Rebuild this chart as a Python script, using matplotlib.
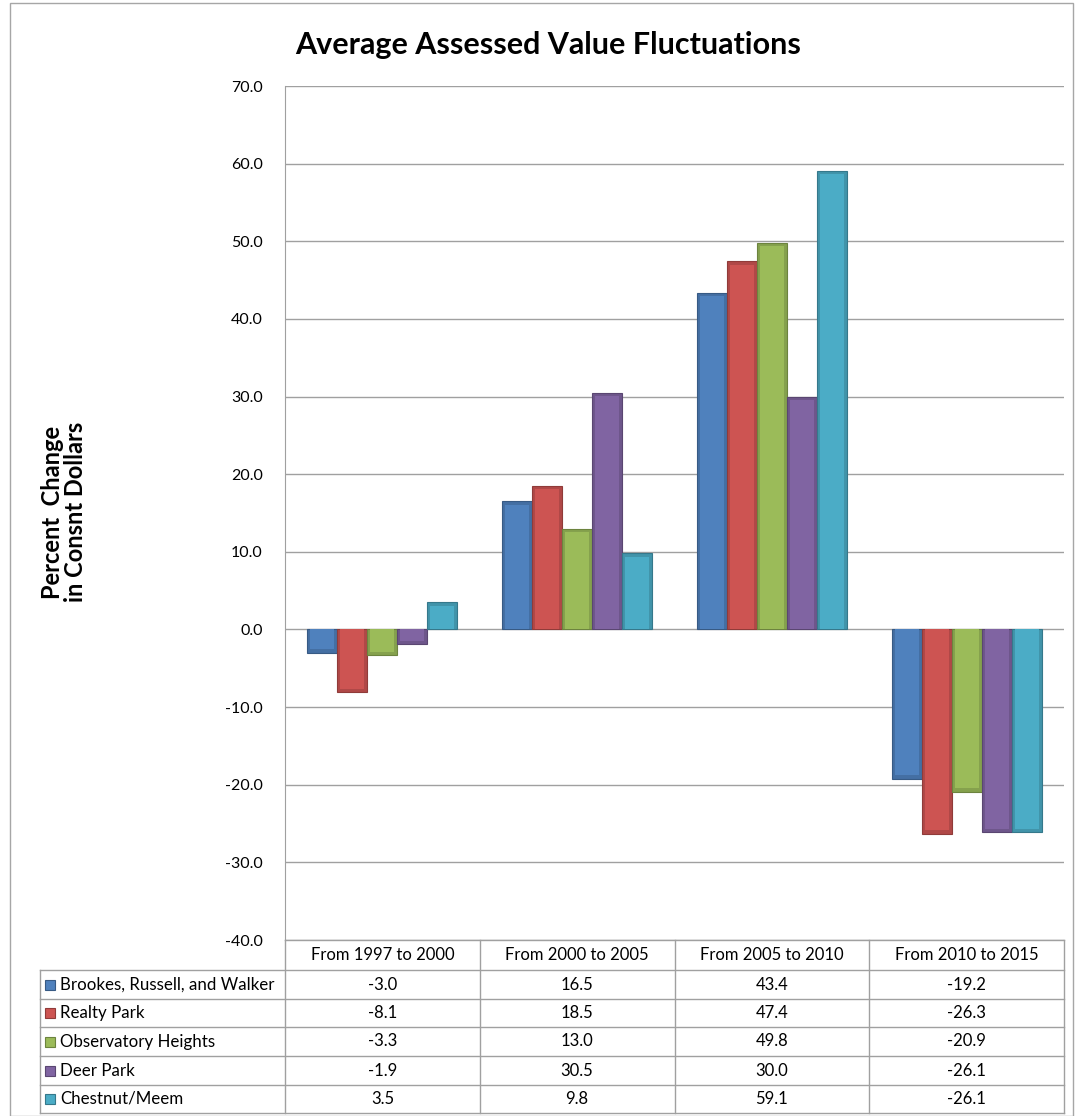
import matplotlib.pyplot as plt
import matplotlib.colors as mcolors
from matplotlib.patches import Rectangle
import numpy as np

plt.rcParams['font.family'] = ['Lato', 'DejaVu Sans']

# data
categories = ["From 1997 to 2000", "From 2000 to 2005", "From 2005 to 2010", "From 2010 to 2015"]
series = ["Brookes, Russell, and Walker", "Realty Park", "Observatory Heights", "Deer Park", "Chestnut/Meem"]
brookes = [-3.0, 16.5, 43.4, -19.2]
realty = [-8.1, 18.5, 47.4, -26.3]
observatory = [-3.3, 13.0, 49.8, -20.9]
deer = [-1.9, 30.5, 30.0, -26.1]
chestnut = [3.5, 9.8, 59.1, -26.1]
values = [brookes, realty, observatory, deer, chestnut]
colors = ["#4F81BD", "#CD5452", "#9BBB59", "#8064A2", "#4BACC6"]

W, H = 1075, 1116
fig = plt.figure(figsize=(W / 100, H / 100), dpi=100)
fig.patches.append(Rectangle((10 / W, 0), (1073 - 10) / W, 1 - 3 / H, transform=fig.transFigure,
                             fill=False, edgecolor="#A6A6A6", linewidth=1))

left, right, top, bottom = 285, 1064, 86, 940
ax = fig.add_axes([left / W, 1 - bottom / H, (right - left) / W, (bottom - top) / H])

def shade(col, f):
    return tuple(min(1, c * f) for c in mcolors.to_rgb(col))

x = np.arange(len(categories))
w = 0.154
inset_y = 0.45
for i, (vals, col) in enumerate(zip(values, colors)):
    pos = x + (i - 2) * w
    v = np.array(vals)
    # outer bevel frame, then face
    ax.bar(pos, v, w, color=shade(col, 0.86), edgecolor=shade(col, 0.7), linewidth=0.8, zorder=3)
    sign = np.sign(v)
    inner = v - sign * np.minimum(inset_y, np.abs(v) / 3)
    ax.bar(pos, inner, w * 0.8, color=col, linewidth=0, zorder=4)

ax.set_xlim(-0.5, len(categories) - 0.5)
ax.set_ylim(-40, 70)
ticks = np.arange(-40, 71, 10)
ax.set_yticks(ticks)
ax.set_yticklabels([f"{t:.1f}" for t in ticks], fontsize=11.5)
ax.tick_params(axis='y', length=0, pad=16)
ax.set_xticks([])
ax.grid(axis='y', color="#A0A0A0", linewidth=1, zorder=0)
for s in ["top", "right", "bottom"]:
    ax.spines[s].set_visible(False)
ax.spines["left"].set_color("#A0A0A0")

fig.text(548 / W, 1 - 45 / H, "Average Assessed Value Fluctuations", ha="center", va="center",
         fontsize=22, fontweight="bold")
fig.text(64 / W, 1 - 512 / H, "Percent  Change\nin Consnt Dollars", ha="center", va="center",
         rotation=90, fontsize=17, fontweight="bold", linespacing=1.05)

# data table below the axes
line_c = "#A0A0A0"
rows_y = [940, 970, 999, 1027, 1056, 1085, 1113]
tf = fig.transFigure
fx = lambda px: px / W
fy = lambda py: 1 - py / H
col_edges = [left + k * (right - left) / len(categories) for k in range(len(categories) + 1)]

for k, y in enumerate(rows_y):
    x0 = left if k == 0 else 40
    fig.add_artist(plt.Line2D([fx(x0), fx(right)], [fy(y), fy(y)], transform=tf, color=line_c, linewidth=1))
for xe in col_edges:
    fig.add_artist(plt.Line2D([fx(xe), fx(xe)], [fy(940), fy(1113)], transform=tf, color=line_c, linewidth=1))
fig.add_artist(plt.Line2D([fx(40), fx(40)], [fy(970), fy(1113)], transform=tf, color=line_c, linewidth=1))

for j, cat in enumerate(categories):
    cx = (col_edges[j] + col_edges[j + 1]) / 2
    fig.text(fx(cx), fy((rows_y[0] + rows_y[1]) / 2), cat, ha="center", va="center", fontsize=12)

for i, (name, vals, col) in enumerate(zip(series, values, colors)):
    cy = (rows_y[i + 1] + rows_y[i + 2]) / 2
    fig.patches.append(Rectangle((fx(45), fy(cy + 5)), 10 / W, 10 / H, transform=tf,
                                 facecolor=col, edgecolor=shade(col, 0.7), linewidth=0.8))
    fig.text(fx(60), fy(cy), name, ha="left", va="center", fontsize=12.2)
    for j, v in enumerate(vals):
        cx = (col_edges[j] + col_edges[j + 1]) / 2
        fig.text(fx(cx), fy(cy), f"{v:.1f}", ha="center", va="center", fontsize=12)

fig.savefig("out.png", dpi=100)
